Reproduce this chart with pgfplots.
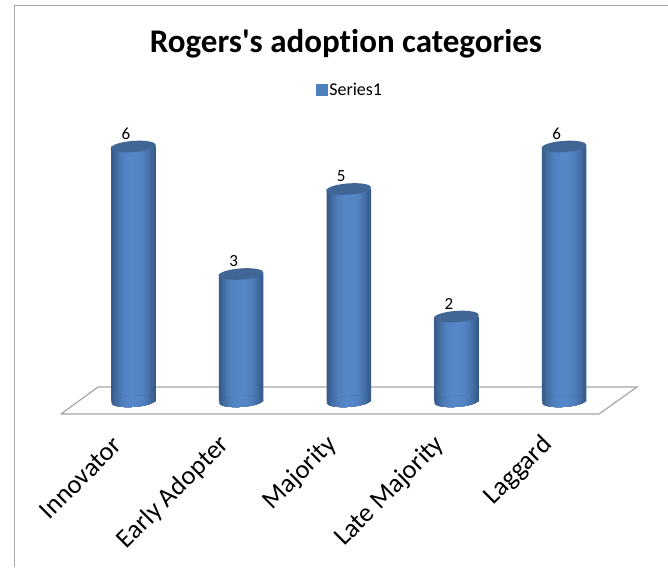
\documentclass[border=0pt]{standalone}
\usepackage{fontspec}
\setmainfont{Carlito}[RawFeature={-liga}]
\usepackage{pgfplots}
\usepackage{pgfplotstable}
\pgfplotsset{compat=1.18}
\definecolor{barEdge}{HTML}{365A88}
\definecolor{barMid}{HTML}{5587C8}
\definecolor{capTop}{HTML}{3F6695}
\definecolor{seriesBlue}{HTML}{4F81BD}
\definecolor{frameGray}{HTML}{A6A6A6}
\pgfplotstableread{
pos value
0 6
1 3
2 5
3 2
4 6
}\adoption
% One vertical band inside the clipped cylinder bottom
\newcommand{\baseband}[2]{%
  \pgfsetfillcolor{barMid!#2!barEdge}%
  \pgfpathrectangle{\pgfqpoint{-#1pt}{-8pt}}{\pgfqpoint{#1pt}{16pt}}%
  \pgfpathrectangle{\pgfqpoint{0pt}{-8pt}}{\pgfqpoint{#1pt}{16pt}}%
  \pgfusepath{fill}}
% Slightly tilted ellipses for the cylinder ends
\pgfdeclareplotmark{cylbase}{%
  \pgfscope
  \pgfpathellipse{\pgfpointorigin}{\pgfqpoint{22.25pt}{1.55pt}}{\pgfqpoint{-0.38pt}{5.4pt}}%
  \pgfusepath{clip}%
  \baseband{22.3}{0}\baseband{21}{12}\baseband{19.5}{25}\baseband{18}{38}%
  \baseband{16.5}{50}\baseband{15}{60}\baseband{13.5}{70}\baseband{12}{78}%
  \baseband{10.5}{85}\baseband{9}{90}\baseband{7}{95}\baseband{4.5}{100}%
  \endpgfscope}
\pgfdeclareplotmark{cylcap}{%
  \pgftransformrotate{4}%
  \pgfpathellipse{\pgfpointorigin}{\pgfqpoint{22.5pt}{0pt}}{\pgfqpoint{0pt}{5.6pt}}%
  \pgfusepathqfill}
% One band of the cylinder walls: nested bars build up the gradient
\newcommand{\wallband}[2]{\addplot[ybar, bar shift=0pt, bar width=#1pt, draw=none, forget plot,
  fill=barMid!#2!barEdge] table[x=pos, y=value] {\adoption};}
\begin{document}
\begin{tikzpicture}
\path[use as bounding box] (0,0) rectangle (668pt,567pt);
\begin{axis}[
  scale only axis, width=668pt, height=567pt,
  xmin=-1.2401, xmax=4.9652, ymin=-3.894, ymax=9.447,
  axis line style={draw=none}, tick style={draw=none},
  xtick={0,1,2,3,4}, ytick=\empty,
  xticklabels={Innovator,Early Adopter,Majority,Late Majority,Laggard},
  xticklabel style={font=\fontsize{26.4}{26.4}\selectfont, inner sep=0pt,
    xshift=-16pt, yshift=126pt, rotate=45, anchor=east},
  axis x line*=bottom,
  clip=false,
  title={\textbf{Rogers\textquotesingle s adoption categories}},
  title style={at={(346/668,1-42/567)}, anchor=center, yshift=-8pt,
    font=\fontsize{33}{33}\selectfont, inner sep=0pt},
  legend style={at={(350/668,1-90/567)}, anchor=center, draw=none, fill=none,
    font=\fontsize{18}{18}\selectfont, inner sep=0pt, row sep=0pt},
  legend image code/.code={\path[fill=seriesBlue] (0pt,-5.5pt) rectangle (11pt,5.5pt);},
]
\addlegendimage{seriesBlue}
\addlegendentry{Series1}

% Floor of the 3-D plot
\addplot[draw=frameGray, fill=white, line width=1.2pt, forget plot] coordinates
  {(-0.6735,-0.294) (-0.3298,0.341) (4.677,0.341) (4.324,-0.294) (-0.6735,-0.294)};

% Cylinder bottoms
\addplot[only marks, mark=cylbase, forget plot] table[x=pos, y expr=0] {\adoption};

% Cylinder walls
\wallband{44.6}{0}
\wallband{42}{12}
\wallband{39}{25}
\wallband{36}{38}
\wallband{33}{50}
\wallband{30}{60}
\wallband{27}{70}
\wallband{24}{78}
\wallband{21}{85}
\wallband{18}{90}
\wallband{14}{95}
\wallband{9}{100}

% Cylinder tops with the value labels
\addplot[only marks, mark=cylcap, color=capTop, forget plot,
  nodes near coords, point meta=y,
  nodes near coords style={font=\fontsize{17}{17}\selectfont, text=black,
    anchor=center, xshift=-7.5pt, yshift=13pt, /pgf/number format/assume math mode=true}]
  table[x=pos, y=value] {\adoption};
\end{axis}
% Chart-area border, top and left sides
\draw[frameGray, line width=1.2pt] (14.3pt,0pt) -- (14.3pt,561.6pt) -- (668pt,561.6pt);
\end{tikzpicture}
\end{document}
